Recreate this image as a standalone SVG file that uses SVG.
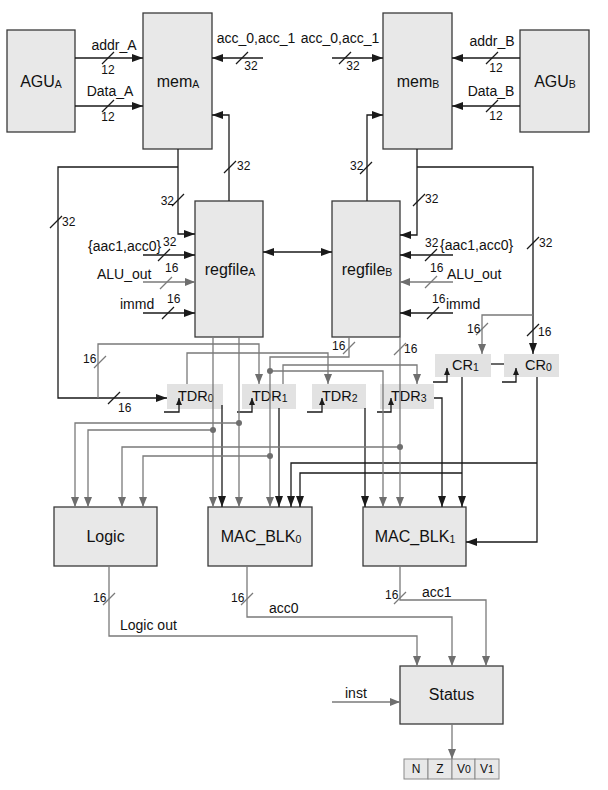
<svg xmlns="http://www.w3.org/2000/svg" width="608" height="790" viewBox="0 0 608 790">
<defs>
<marker id="ab" markerWidth="11" markerHeight="8" refX="11" refY="4" orient="auto-start-reverse" markerUnits="userSpaceOnUse"><path d="M0,0 L11,4 L0,8 z" fill="#1a1a1a"/></marker>
<marker id="ag" markerWidth="10" markerHeight="8" refX="10" refY="4" orient="auto" markerUnits="userSpaceOnUse"><path d="M0,0 L10,4 L0,8 z" fill="#6e6e6e"/></marker>
<marker id="sb" markerWidth="7" markerHeight="6" refX="7" refY="3" orient="auto" markerUnits="userSpaceOnUse"><path d="M0,0 L7,3 L0,6 z" fill="#1a1a1a"/></marker>
</defs>
<style>
.box{fill:#e8e8e8;stroke:#3a3a3a;stroke-width:1.3}
.reg{fill:#e2e2e2}
.flag{fill:#e8e8e8;stroke:#8a8a8a;stroke-width:1}
.k{fill:none;stroke:#1a1a1a;stroke-width:1.3}
.g{fill:none;stroke:#7a7a7a;stroke-width:1.3}
.ka{marker-end:url(#ab)}
.ga{marker-end:url(#ag)}
.ck{marker-end:url(#sb)}
.t{font-family:"Liberation Sans",Arial,Helvetica,sans-serif;fill:#111}
.big{font-size:16px}
.mid{font-size:14.5px}
.lbl{font-size:14px}
.num{font-size:12px}
.fl{font-size:12px}
.sub{font-size:10.5px}
.m{text-anchor:middle}
.e{text-anchor:end}
.dot{fill:#6e6e6e}
</style>

<g id="AGU_A"><rect class="box" x="7" y="30" width="68" height="102"/><text class="t big m" x="41" y="87">AGU<tspan class="sub" dy="1">A</tspan></text></g>
<g id="mem_A"><rect class="box" x="143" y="13" width="69" height="136"/><text class="t big m" x="178" y="87">mem<tspan class="sub" dy="1">A</tspan></text></g>
<g id="mem_B"><rect class="box" x="383" y="13" width="69" height="136"/><text class="t big m" x="418" y="87">mem<tspan class="sub" dy="1">B</tspan></text></g>
<g id="AGU_B"><rect class="box" x="520" y="30" width="69" height="102"/><text class="t big m" x="555" y="87">AGU<tspan class="sub" dy="1">B</tspan></text></g>
<g id="regfile_A"><rect class="box" x="195" y="201" width="68" height="136"/><text class="t big m" x="230" y="275">regfile<tspan class="sub" dy="1">A</tspan></text></g>
<g id="regfile_B"><rect class="box" x="332" y="201" width="68" height="136"/><text class="t big m" x="367" y="275">regfile<tspan class="sub" dy="1">B</tspan></text></g>
<g id="TDR0"><rect class="reg" x="167" y="384" width="56" height="25"/><text class="t mid" x="178" y="401">TDR<tspan class="sub" dy="1">0</tspan></text></g>
<g id="TDR1"><rect class="reg" x="242" y="384" width="54" height="25"/><text class="t mid" x="252" y="401">TDR<tspan class="sub" dy="1">1</tspan></text></g>
<g id="TDR2"><rect class="reg" x="312" y="384" width="54" height="25"/><text class="t mid" x="322" y="401">TDR<tspan class="sub" dy="1">2</tspan></text></g>
<g id="TDR3"><rect class="reg" x="380" y="384" width="54" height="25"/><text class="t mid" x="391" y="401">TDR<tspan class="sub" dy="1">3</tspan></text></g>
<g id="CR1"><rect class="reg" x="435" y="354" width="56" height="23"/><text class="t mid" x="452" y="370">CR<tspan class="sub" dy="1">1</tspan></text></g>
<g id="CR0"><rect class="reg" x="504" y="354" width="55" height="23"/><text class="t mid" x="525" y="370">CR<tspan class="sub" dy="1">0</tspan></text></g>
<g id="Logic"><rect class="box" x="54" y="507" width="103" height="59"/><text class="t big m" x="105.5" y="542">Logic</text></g>
<g id="MAC_BLK0"><rect class="box" x="208" y="507" width="104" height="59"/><text class="t big m" x="261" y="542">MAC_BLK<tspan class="sub" dy="1">0</tspan></text></g>
<g id="MAC_BLK1"><rect class="box" x="363" y="507" width="103" height="59"/><text class="t big m" x="415" y="542">MAC_BLK<tspan class="sub" dy="1">1</tspan></text></g>
<g id="Status"><rect class="box" x="400" y="666" width="103" height="58"/><text class="t big m" x="451.5" y="700">Status</text></g>
<g id="flags">
<rect class="flag" x="404" y="759" width="24" height="20"/><rect class="flag" x="428" y="759" width="24" height="20"/><rect class="flag" x="452" y="759" width="23" height="20"/><rect class="flag" x="475" y="759" width="24" height="20"/>
<text class="t fl m" x="416" y="773">N</text><text class="t fl m" x="440" y="773">Z</text><text class="t fl m" x="464" y="773">V<tspan class="sub">0</tspan></text><text class="t fl m" x="487" y="773">V<tspan class="sub">1</tspan></text>
</g>

<g id="connectors">
<path class="k ka" d="M75,58 H143"/>
<path class="k ka" d="M75,106 H143"/>
<path class="k ka" d="M263,58 H212"/>
<path class="k ka" d="M520,58 H452"/>
<path class="k ka" d="M520,106 H452"/>
<path class="k ka" d="M332,58 H383"/>
<path class="k ka" d="M178,149 V234 H195"/>
<path class="k ka" d="M178,167 H58 V398 H167"/>
<path class="k ka" d="M229,201 V115 H212"/>
<path class="k ka" d="M143,255 H195"/>
<path class="k ka" d="M143,313 H195"/>
<path class="k ka" d="M263,252 H332" marker-start="url(#ab)"/>
<path class="k ka" d="M367,201 V115 H383"/>
<path class="k ka" d="M417,149 V235 H400"/>
<path class="k ka" d="M417,167 H533 V354"/>
<path class="k ka" d="M453,255 H400"/>
<path class="k ka" d="M453,313 H400"/>
<path class="k ka" d="M222,405 V507"/>
<path class="k ka" d="M279,408 V507"/>
<path class="k ka" d="M365,408 V507"/>
<path class="k ka" d="M434,398 H442 V507"/>
<path class="k ka" d="M462,377 V507"/>
<path class="k ka" d="M462,473 H300 V507"/>
<path class="k ka" d="M537,377 V542 H466"/>
<path class="k ka" d="M537,463 H291 V507"/>
<path class="k" d="M491,364 H504"/>
<path class="k ck" d="M164,412 H179 V398"/>
<path class="k ck" d="M237,412 H252 V398"/>
<path class="k ck" d="M307,412 H322 V398"/>
<path class="k ck" d="M377,412 H391 V398"/>
<path class="k ck" d="M433,382 H447 V368"/>
<path class="k ck" d="M502,382 H516 V368"/>
<path class="g ga" d="M143,282 H195"/>
<path class="g ga" d="M453,282 H400"/>
<path class="g ga" d="M533,315 H482 V354"/>
<path class="g ga" d="M98,398 V344 H259 V384"/>
<path class="g ga" d="M187,384 V353 H328 V384"/>
<path class="g ga" d="M283,384 V365 H417 V384"/>
<path class="g ga" d="M349,337 V357 H270 V507"/>
<path class="g ga" d="M270,371 H383 V507"/>
<path class="g ga" d="M270,456 H143 V507"/>
<path class="g ga" d="M400,337 V507"/>
<path class="g ga" d="M400,447 H122 V507"/>
<path class="g ga" d="M213,337 V507"/>
<path class="g ga" d="M213,430 H88 V507"/>
<path class="g ga" d="M239,337 V507"/>
<path class="g ga" d="M239,423 H75 V507"/>
<path class="g ga" d="M109,566 V636 H417 V666"/>
<path class="g ga" d="M247,566 V617 H452 V666"/>
<path class="g ga" d="M400,566 V600 H486 V666"/>
<path class="g ga" d="M332,702 H400"/>
<path class="g ga" d="M452,724 V759"/>
<circle class="dot" cx="270" cy="371" r="3"/>
<circle class="dot" cx="270" cy="456" r="3"/>
<circle class="dot" cx="400" cy="447" r="3"/>
<circle class="dot" cx="213" cy="430" r="3"/>
<circle class="dot" cx="239" cy="423" r="3"/>
<path class="k" d="M102,64 l12,-12 M102,112 l12,-12 M236,64 l12,-12 M486,64 l12,-12 M486,112 l12,-12 M339,64 l12,-12 M172,206 l12,-12 M50,228 l12,-12 M108,404 l12,-12 M224,173 l12,-12 M158,261 l12,-12 M162,319 l12,-12 M360,174 l12,-12 M413,206 l12,-12 M527,249 l12,-12 M527,336 l12,-12 M425,261 l12,-12 M427,319 l12,-12"/>
<path class="g" d="M160,289 l12,-12 M425,288 l12,-12 M94,368 l12,-12 M343,354 l12,-12 M394,355 l12,-12 M476,335 l12,-12 M103,605 l12,-12 M241,605 l12,-12 M394,604 l12,-12"/>
<text class="t num m" x="108" y="74">12</text>
<text class="t num m" x="108" y="121">12</text>
<text class="t num m" x="251" y="70">32</text>
<text class="t num m" x="496" y="72">12</text>
<text class="t num m" x="496" y="120">12</text>
<text class="t num m" x="353" y="70">32</text>
<text class="t num e" x="174" y="205">32</text>
<text class="t num" x="62" y="226">32</text>
<text class="t num" x="118" y="412">16</text>
<text class="t num" x="237" y="170">32</text>
<text class="t num" x="163" y="246">32</text>
<text class="t num" x="165" y="272">16</text>
<text class="t num" x="167" y="303">16</text>
<text class="t num" x="350" y="170">32</text>
<text class="t num" x="425" y="203">32</text>
<text class="t num" x="539" y="247">32</text>
<text class="t num" x="467" y="333">16</text>
<text class="t num" x="538" y="336">16</text>
<text class="t num" x="425" y="247">32</text>
<text class="t num" x="430" y="272">16</text>
<text class="t num" x="432" y="303">16</text>
<text class="t num" x="83" y="363">16</text>
<text class="t num" x="332" y="350">16</text>
<text class="t num" x="404" y="353">16</text>
<text class="t num" x="93" y="602">16</text>
<text class="t num" x="231" y="602">16</text>
<text class="t num" x="385" y="599">16</text>
<text class="t lbl m" x="114" y="50">addr_A</text>
<text class="t lbl m" x="110" y="96">Data_A</text>
<text class="t lbl m" x="256" y="43">acc_0,acc_1</text>
<text class="t lbl m" x="492" y="46">addr_B</text>
<text class="t lbl m" x="491" y="96">Data_B</text>
<text class="t lbl m" x="340" y="43">acc_0,acc_1</text>
<text class="t lbl" x="88" y="251">{aac1,acc0}</text>
<text class="t lbl" x="97" y="279">ALU_out</text>
<text class="t lbl" x="120" y="309">immd</text>
<text class="t lbl" x="440" y="250">{aac1,acc0}</text>
<text class="t lbl" x="447" y="279">ALU_out</text>
<text class="t lbl" x="446" y="309">immd</text>
<text class="t lbl" x="120" y="630">Logic out</text>
<text class="t lbl" x="269" y="613">acc0</text>
<text class="t lbl" x="422" y="597">acc1</text>
<text class="t lbl" x="345" y="698">inst</text>
</g>
</svg>
